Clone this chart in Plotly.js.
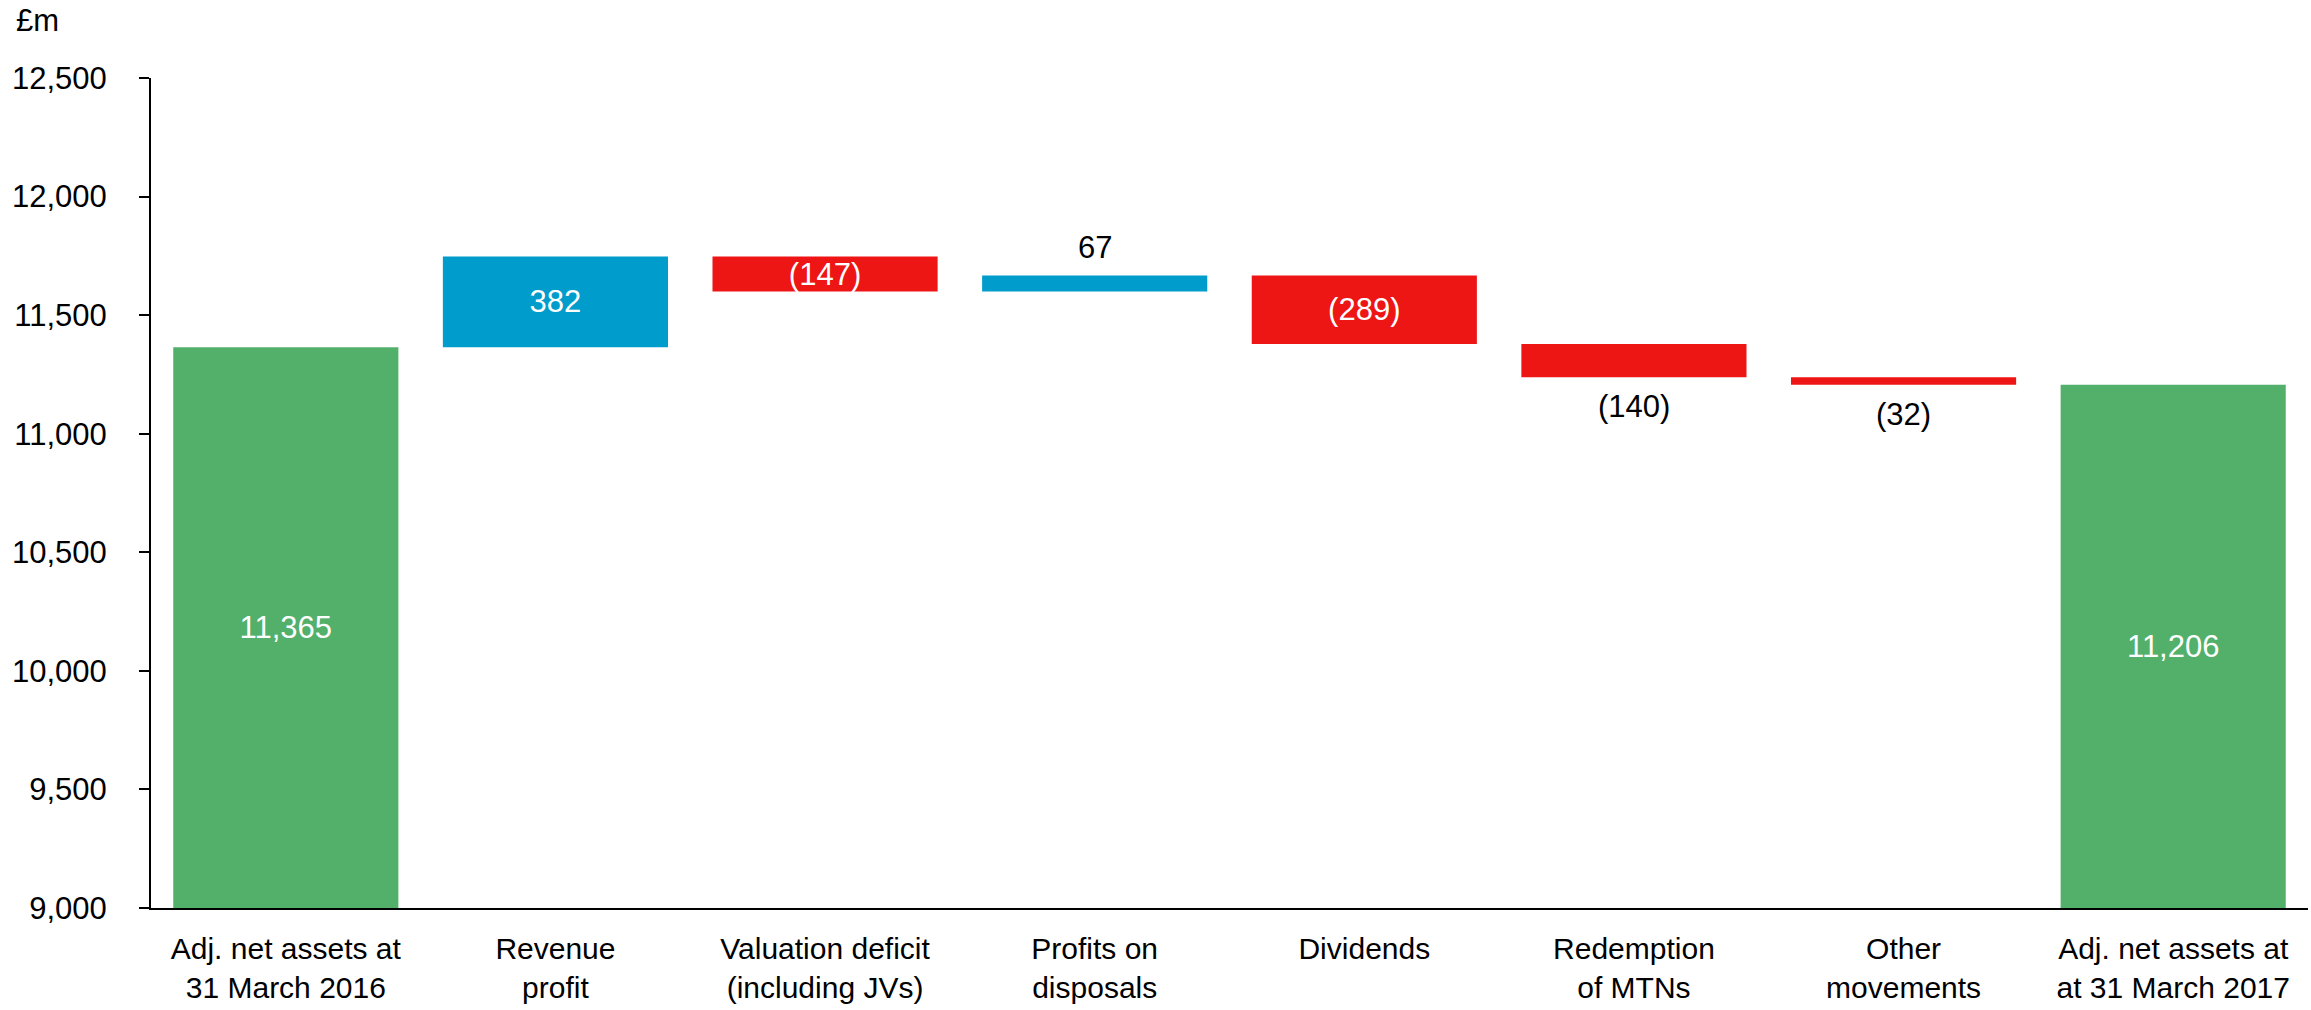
<!DOCTYPE html>
<html>
<head>
<meta charset="utf-8">
<script src="https://cdn.plot.ly/plotly-3.0.1.min.js"></script>
<style>
  html, body { margin: 0; padding: 0; background: #fff; }
  #chart { width: 2311px; height: 1010px; }
</style>
</head>
<body>
<div id="chart"></div>
<script>
// Adjusted net asset movement, £m
const categories = [
    'Adj. net assets at<br>31 March 2016',
    'Revenue<br>profit',
    'Valuation deficit<br>(including JVs)',
    'Profits on<br>disposals',
    'Dividends',
    'Redemption<br>of MTNs',
    'Other<br>movements',
    'Adj. net assets at<br>at 31 March 2017'
];
const openingAssets = 11365;
const movements = [382, -147, 67, -289, -140, -32];
const closingAssets = 11206;
const labelPlacement = ['inside', 'inside', 'inside', 'outside', 'inside', 'outside', 'outside', 'inside'];

const axisFloor = 9000;
const GREEN = '#52B06B', BLUE = '#009CCB', RED = '#EE1515';

function fmt(v) {
    const s = Math.abs(v).toLocaleString('en-GB');
    return v < 0 ? '(' + s + ')' : s;
}

// build the floating bars: totals sit on the axis floor, movements float on the running total
const bases = [], heights = [], colors = [], texts = [];
bases.push(axisFloor); heights.push(openingAssets - axisFloor); colors.push(GREEN); texts.push(fmt(openingAssets));
let running = openingAssets;
movements.forEach(m => {
    bases.push(running);
    heights.push(m);
    colors.push(m >= 0 ? BLUE : RED);
    texts.push(fmt(m));
    running += m;
});
bases.push(axisFloor); heights.push(closingAssets - axisFloor); colors.push(GREEN); texts.push(fmt(closingAssets));

const FONT = 'Arial, "Liberation Sans", sans-serif';

// labels that sit outside the bar are drawn as annotations so they get a bit more room
const annotations = [{
    text: '£m',
    xref: 'paper', yref: 'paper',
    x: -137 / 2157, y: 1 + 58 / 830,
    xanchor: 'left', yanchor: 'middle',
    showarrow: false,
    font: { family: FONT, size: 31, color: '#000000' }
}];
labelPlacement.forEach((p, i) => {
    if (p !== 'outside') return;
    const up = heights[i] >= 0;
    annotations.push({
        x: categories[i],
        y: bases[i] + heights[i],
        text: texts[i],
        showarrow: false,
        xanchor: 'center',
        yanchor: up ? 'bottom' : 'top',
        yshift: up ? 9 : -10,
        font: { family: FONT, size: 31, color: '#000000' }
    });
});

const trace = {
    type: 'bar',
    x: categories,
    y: heights,
    base: bases,
    marker: { color: colors, line: { width: 0 } },
    text: texts.map((t, i) => labelPlacement[i] === 'inside' ? t : ''),
    textposition: labelPlacement.map(p => p === 'inside' ? 'inside' : 'none'),
    insidetextanchor: 'middle',
    constraintext: 'none',
    textangle: 0,
    insidetextfont: { family: FONT, size: 31, color: '#ffffff' },
    cliponaxis: false,
    hoverinfo: 'skip'
};

const layout = {
    width: 2311,
    height: 1010,
    margin: { l: 151, r: 3, t: 78, b: 102 },
    paper_bgcolor: '#ffffff',
    plot_bgcolor: '#ffffff',
    font: { family: FONT, size: 31, color: '#000000' },
    showlegend: false,
    bargap: 0.165,
    xaxis: {
        type: 'category',
        showline: true,
        linecolor: '#000000',
        linewidth: 2,
        ticks: '',
        showgrid: false,
        zeroline: false,
        tickfont: { family: FONT, size: 30, color: '#000000' },
        ticklabelstandoff: 13
    },
    yaxis: {
        range: [axisFloor, 12500],
        dtick: 500,
        tick0: 9000,
        tickformat: ',d',
        showline: true,
        linecolor: '#000000',
        linewidth: 2,
        ticks: 'outside',
        ticklen: 10,
        tickwidth: 2,
        tickcolor: '#000000',
        showgrid: false,
        zeroline: false,
        tickfont: { family: FONT, size: 31, color: '#000000' },
        ticklabelstandoff: 26
    },
    annotations: annotations
};

Plotly.newPlot('chart', [trace], layout, { displayModeBar: false, staticPlot: true });
</script>
</body>
</html>
